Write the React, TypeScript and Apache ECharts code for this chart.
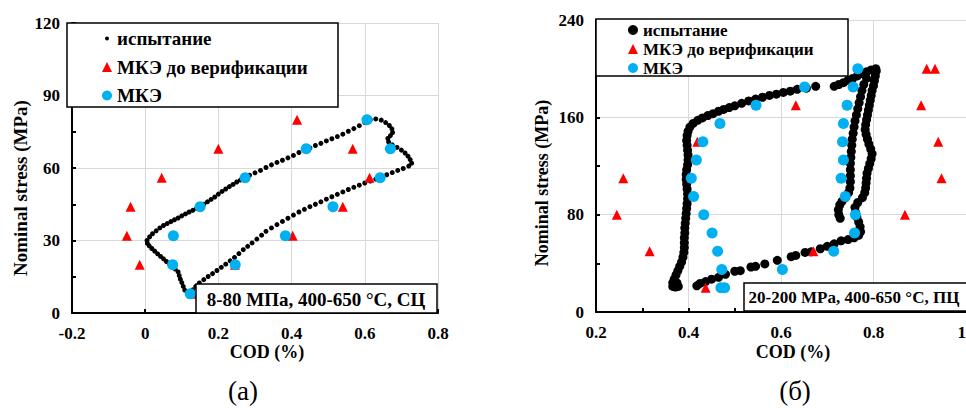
import { useEffect, useRef } from "react";
import * as echarts from "echarts";

const SERIES_NAMES = ["испытание", "МКЭ до верификации", "МКЭ"];

// ---------- Panel (a): 8-80 МПа, СЦ ----------
const xTicksA = [-0.2, 0, 0.2, 0.4, 0.6, 0.8];
const yTicksA = [0, 30, 60, 90, 120];
const labelA = "8-80 МПа, 400-650 °C, СЦ";

const testA: number[][] = [
  [0.005, 30], [0.012, 31.5], [0.02, 32.8], [0.03, 34], [0.04, 35.2], [0.05, 36.2], [0.06, 37], [0.07, 37.8],
  [0.08, 38.6], [0.09, 39.3], [0.1, 40.2], [0.11, 41], [0.12, 41.8], [0.13, 42.5], [0.14, 43.3], [0.15, 44.2],
  [0.16, 45], [0.17, 46], [0.18, 47], [0.19, 48], [0.2, 49.2], [0.21, 50.3], [0.22, 51.3], [0.23, 52.3],
  [0.24, 53.2], [0.25, 54.2], [0.26, 55], [0.27, 55.8], [0.285, 57], [0.3, 58], [0.315, 59], [0.33, 60.2],
  [0.345, 61.3], [0.36, 62.3], [0.375, 63.2], [0.39, 64.2], [0.405, 65.2], [0.42, 66.4], [0.435, 67.4],
  [0.45, 68.3], [0.465, 69.3], [0.48, 70.2], [0.495, 71.2], [0.51, 72.1], [0.525, 73], [0.54, 74],
  [0.555, 75.2], [0.57, 76.3], [0.585, 77.5], [0.6, 78.8], [0.615, 80], [0.63, 80.3], [0.645, 79.8],
  [0.657, 78.8], [0.667, 77.6], [0.674, 76.2], [0.676, 74.7], [0.67, 73.4], [0.663, 72.2], [0.665, 70.8],
  [0.675, 69.6], [0.688, 68.5], [0.7, 67.4], [0.71, 66.2], [0.718, 64.9], [0.724, 63.5], [0.728, 62],
  [0.72, 60.8], [0.705, 59.8], [0.69, 59], [0.675, 58.1], [0.66, 57.2], [0.645, 56.3], [0.63, 55.4],
  [0.615, 54.6], [0.6, 53.8], [0.585, 52.9], [0.57, 52], [0.555, 51.1], [0.54, 50.1], [0.525, 49.1],
  [0.51, 48.1], [0.495, 47.1], [0.48, 46], [0.465, 45], [0.45, 44], [0.435, 42.9], [0.42, 41.8],
  [0.405, 40.5], [0.39, 39.2], [0.375, 37.9], [0.36, 36.6], [0.345, 35.2], [0.33, 33.8], [0.318, 32.2],
  [0.305, 30.6], [0.292, 29], [0.28, 27.6], [0.268, 26.2], [0.256, 24.6], [0.244, 23], [0.232, 21.6],
  [0.22, 20.2], [0.208, 18.9], [0.196, 17.6], [0.184, 16.3], [0.172, 15.1], [0.16, 13.8], [0.148, 12.4],
  [0.138, 11], [0.13, 9.6], [0.124, 8.6], [0.115, 8.3], [0.108, 9.5], [0.104, 11], [0.1, 12.6],
  [0.096, 14], [0.093, 15.5], [0.09, 17], [0.082, 18.2], [0.074, 19.3], [0.066, 20.3], [0.058, 21.3],
  [0.05, 22.4], [0.042, 23.4], [0.034, 24.5], [0.026, 25.6], [0.018, 26.7], [0.011, 27.8], [0.006, 28.8],
];

const femBeforeA: number[][] = [
  [-0.015, 20], [-0.05, 32], [-0.04, 44], [0.045, 56], [0.2, 68], [0.415, 80],
  [0.567, 68], [0.613, 56], [0.54, 44], [0.403, 32], [0.245, 20], [0.128, 8],
];

const femA: number[][] = [
  [0.123, 8], [0.075, 20], [0.077, 32], [0.15, 44], [0.273, 56], [0.44, 68], [0.606, 80],
  [0.67, 68], [0.642, 56], [0.513, 44], [0.383, 32], [0.246, 20],
];

// ---------- Panel (б): 20-200 MPa, ПЦ ----------
const xTicksB = [0.2, 0.4, 0.6, 0.8, 1.0];
const yTicksB = [0, 80, 160, 240];
const labelB = "20-200 MPa, 400-650 °C, ПЦ";

const testB: number[][] = [
  // upper branch, right to left, then down the left side
  [0.805, 200], [0.795, 199], [0.785, 197.5], [0.775, 196], [0.765, 194], [0.755, 192], [0.745, 190.5],
  [0.735, 188.5], [0.725, 187], [0.715, 185.5],
  [0.675, 185.5], [0.655, 184], [0.635, 183], [0.62, 181.5], [0.605, 180.5], [0.59, 179], [0.575, 178],
  [0.56, 176.5], [0.545, 175], [0.53, 173.5], [0.515, 171.5], [0.5, 169.5], [0.488, 168], [0.476, 166.5],
  [0.465, 165], [0.453, 163], [0.442, 161.5], [0.43, 159.5], [0.42, 157.5], [0.41, 155], [0.403, 152],
  [0.399, 148.5], [0.397, 145], [0.396, 141], [0.397, 137], [0.398, 133], [0.399, 129], [0.399, 125],
  [0.398, 121], [0.396, 117], [0.395, 113], [0.395, 109], [0.396, 105], [0.397, 101], [0.398, 97],
  [0.398, 93], [0.397, 89], [0.396, 85], [0.395, 81], [0.394, 77], [0.393, 73], [0.392, 69], [0.392, 65],
  [0.391, 61], [0.391, 57], [0.391, 53], [0.39, 49], [0.388, 45], [0.385, 41], [0.381, 37.5],
  [0.377, 34], [0.373, 30.5], [0.369, 27], [0.366, 24], [0.366, 21], [0.372, 20.5], [0.378, 21], [0.375, 24],
  // lower branch, left to right, then up the right side
  [0.418, 21.5], [0.425, 23.5], [0.437, 25], [0.45, 27], [0.465, 28.5], [0.48, 31], [0.5, 33.5],
  [0.512, 34], [0.535, 37], [0.545, 37.5], [0.565, 39.5], [0.592, 42.5], [0.622, 45.5], [0.632, 46.5],
  [0.652, 49], [0.665, 49.5], [0.685, 52], [0.7, 54], [0.715, 56], [0.73, 58.5], [0.745, 59.5],
  [0.758, 61], [0.768, 63], [0.772, 66], [0.771, 70], [0.768, 74], [0.764, 78], [0.761, 82], [0.76, 86],
  [0.766, 90], [0.776, 94], [0.781, 98], [0.783, 102], [0.784, 106], [0.785, 110], [0.786, 114],
  [0.789, 118], [0.792, 122], [0.795, 126], [0.797, 130], [0.794, 134], [0.79, 138], [0.787, 142],
  [0.784, 146], [0.782, 150], [0.783, 154], [0.785, 158], [0.787, 162], [0.789, 166], [0.791, 170],
  [0.793, 174], [0.795, 178], [0.797, 182], [0.8, 186], [0.802, 190], [0.804, 194], [0.806, 198],
  // inner descending path on the right
  [0.785, 192], [0.779, 187], [0.775, 182], [0.772, 177], [0.769, 172], [0.766, 167], [0.763, 162],
  [0.76, 157], [0.758, 152], [0.756, 147], [0.754, 142], [0.753, 137], [0.752, 132], [0.751, 127],
  [0.75, 122], [0.75, 117], [0.75, 112], [0.75, 107], [0.749, 102], [0.746, 98], [0.739, 94],
  [0.732, 91], [0.727, 88], [0.724, 84], [0.725, 80], [0.728, 77],
];

const femBeforeB: number[][] = [
  [0.437, 20], [0.316, 50], [0.245, 80], [0.259, 110], [0.419, 140], [0.632, 170], [0.915, 200],
  [0.933, 200], [0.903, 170], [0.94, 140], [0.947, 110], [0.868, 80], [0.67, 50],
];

const femB: number[][] = [
  [0.47, 20], [0.478, 20], [0.472, 35], [0.463, 50], [0.451, 65], [0.433, 80], [0.411, 95], [0.406, 110],
  [0.417, 125], [0.431, 140], [0.468, 155], [0.546, 170], [0.651, 185], [0.766, 200],
  [0.756, 185], [0.743, 170], [0.735, 155], [0.733, 140], [0.735, 125], [0.73, 110], [0.739, 95],
  [0.761, 80], [0.759, 65], [0.714, 50], [0.603, 35],
];

const FONT = "Liberation Serif, serif";
const BLACK = "#000000";
const RED = "#ff0000";
const BLUE = "#00b0f0";

function makeAxis(gridIndex: number, ticks: number[], minor: boolean, alignMax = false) {
  return {
    type: "value",
    gridIndex,
    min: ticks[0],
    max: ticks[ticks.length - 1],
    interval: ticks[1] - ticks[0],
    axisLine: { show: true, onZero: false, lineStyle: { color: BLACK, width: 2 } },
    axisTick: { show: true, inside: true, length: 4, lineStyle: { color: BLACK, width: 2 } },
    minorTick: { show: minor, splitNumber: 2, length: 4, lineStyle: { color: BLACK, width: 2 } },
    splitLine: { show: true, lineStyle: { color: "#d9d9d9", width: 1 } },
    axisLabel: {
      color: BLACK,
      fontFamily: FONT,
      fontWeight: "bold",
      fontSize: 17,
      margin: 12,
      ...(alignMax ? { alignMaxLabel: "right" } : {}),
    },
  };
}

function makeSeries(grid: number, data: number[][][], sizes: number[]) {
  const colors = [BLACK, RED, BLUE];
  const symbols = ["circle", "triangle", "circle"];
  return data.map((d, i) => ({
    type: "scatter",
    name: SERIES_NAMES[i],
    xAxisIndex: grid,
    yAxisIndex: grid,
    data: d,
    symbol: symbols[i],
    symbolSize: sizes[i],
    itemStyle: { color: colors[i], opacity: 1 },
    z: 2 + i,
    silent: true,
  }));
}

const DOT_ICON = "path://M0,0M20,20M6,10a4,4 0 1,0 8,0a4,4 0 1,0 -8,0z";

function text(x: number, y: number, t: string, size: number, bold: boolean, rotate = 0) {
  return {
    type: "text",
    x,
    y,
    rotation: rotate,
    z: 60,
    style: {
      text: t,
      fontFamily: FONT,
      fontSize: size,
      fontWeight: bold ? "bold" : "normal",
      fill: BLACK,
      align: "center",
      verticalAlign: "middle",
    },
  };
}

function box(x: number, y: number, w: number, h: number) {
  return {
    type: "rect",
    z: 55,
    shape: { x, y, width: w, height: h },
    style: { fill: "#ffffff", stroke: BLACK, lineWidth: 1.5 },
  };
}

export default function App() {
  const ref = useRef<HTMLDivElement>(null);
  useEffect(() => {
    document.body.style.margin = "0";
    if (!ref.current) return;
    const chart = echarts.init(ref.current, null, { renderer: "svg" });
    const option = {
      animation: false,
      backgroundColor: "#ffffff",
      textStyle: { fontFamily: FONT },
      grid: [
        { left: 72, top: 23, width: 366, height: 290, containLabel: false, outerBoundsMode: "none" },
        { left: 596, top: 20, width: 370, height: 292, containLabel: false, outerBoundsMode: "none" },
      ],
      xAxis: [makeAxis(0, xTicksA, false), makeAxis(1, xTicksB, true, true)],
      yAxis: [makeAxis(0, yTicksA, true), makeAxis(1, yTicksB, true)],
      legend: [
        {
          left: 102,
          top: 29,
          orient: "vertical",
          z: 100,
          padding: 0,
          itemGap: 9.5,
          itemWidth: 10,
          itemHeight: 10,
          selectedMode: false,
          textStyle: { fontFamily: FONT, fontWeight: "bold", fontSize: 19, lineHeight: 18, color: BLACK },
          data: [
            { name: SERIES_NAMES[0], icon: DOT_ICON },
            { name: SERIES_NAMES[1], icon: "triangle" },
            { name: SERIES_NAMES[2], icon: "circle" },
          ],
        },
        {
          left: 628,
          top: 21.5,
          orient: "vertical",
          z: 100,
          padding: 0,
          itemGap: 2,
          itemWidth: 10,
          itemHeight: 10,
          selectedMode: false,
          textStyle: { fontFamily: FONT, fontWeight: "bold", fontSize: 17, lineHeight: 17, color: BLACK },
          data: [
            { name: SERIES_NAMES[0], icon: "circle" },
            { name: SERIES_NAMES[1], icon: "triangle" },
            { name: SERIES_NAMES[2], icon: "circle" },
          ],
        },
      ],
      graphic: [
        box(67, 23, 271, 84),
        box(596, 19, 252, 57),
        box(196, 284, 241, 29),
        text(316, 299, labelA, 19, true),
        box(744, 283, 230, 28),
        text(854, 297, labelB, 17, true),
        text(20, 188, "Nominal stress (MPa)", 19, true, Math.PI / 2),
        text(542, 183, "Nominal stress (MPa)", 18, true, Math.PI / 2),
        text(267, 352, "COD (%)", 18, true),
        text(793, 352, "COD (%)", 18, true),
        text(243, 391, "(a)", 27, false),
        text(795, 391, "(б)", 27, false),
      ],
      series: [
        ...makeSeries(0, [testA, femBeforeA, femA], [5, 10, 11]),
        ...makeSeries(1, [testB, femBeforeB, femB], [9, 10, 11]),
      ],
    };
    chart.setOption(option as any);
    return () => chart.dispose();
  }, []);
  return (
    <div
      ref={ref}
      style={{ position: "absolute", left: 0, top: 0, width: 966, height: 408 }}
    />
  );
}
